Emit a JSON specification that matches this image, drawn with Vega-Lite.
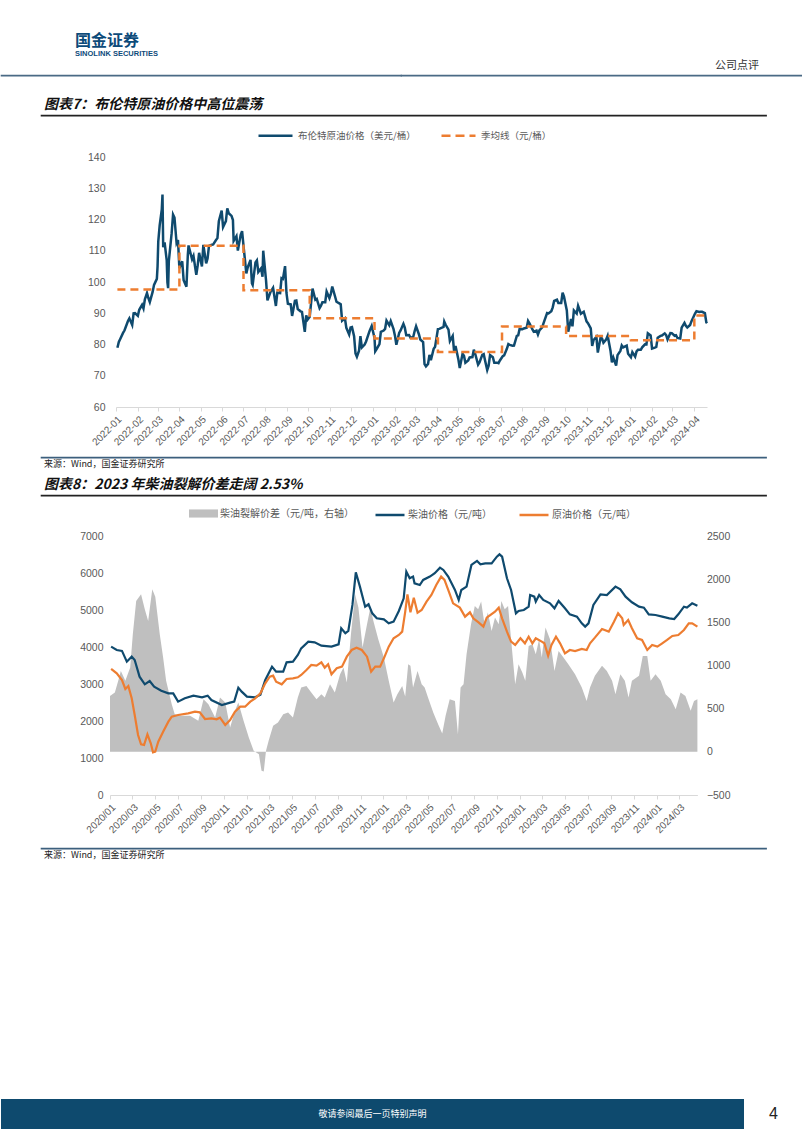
{
  "$schema": "https://vega.github.io/schema/vega-lite/v6.json",
  "padding": 0,
  "background": "white",
  "config": {
    "view": {"stroke": null},
    "font": "Noto Sans CJK SC",
    "axis": {"labelFont": "Liberation Sans", "labelColor": "#595959", "labelFontSize": 10.5, "grid": false, "title": null},
    "title": {"font": "Noto Sans CJK SC"}
  },
  "datasets": {
    "brent": [
      {"date":"2022/01/03","value":78.98},{"date":"2022/01/05","value":80.80},{"date":"2022/01/07","value":81.75},{"date":"2022/01/11","value":83.72},{"date":"2022/01/13","value":84.47},{"date":"2022/01/18","value":87.51},{"date":"2022/01/20","value":88.38},{"date":"2022/01/24","value":86.27},{"date":"2022/01/26","value":89.96},{"date":"2022/01/28","value":90.03},
      {"date":"2022/02/01","value":89.16},{"date":"2022/02/03","value":91.11},{"date":"2022/02/07","value":92.69},{"date":"2022/02/09","value":91.55},{"date":"2022/02/11","value":94.44},{"date":"2022/02/14","value":96.48},{"date":"2022/02/16","value":94.81},{"date":"2022/02/18","value":93.54},{"date":"2022/02/22","value":96.84},{"date":"2022/02/24","value":99.08},{"date":"2022/02/28","value":100.99},
      {"date":"2022/03/01","value":104.97},{"date":"2022/03/02","value":112.93},{"date":"2022/03/04","value":118.11},{"date":"2022/03/07","value":123.21},{"date":"2022/03/08","value":127.98},{"date":"2022/03/09","value":111.14},{"date":"2022/03/11","value":112.67},{"date":"2022/03/14","value":106.90},{"date":"2022/03/15","value":99.91},{"date":"2022/03/16","value":98.02},{"date":"2022/03/17","value":106.64},{"date":"2022/03/21","value":115.62},{"date":"2022/03/23","value":121.60},{"date":"2022/03/25","value":120.65},{"date":"2022/03/28","value":112.48},{"date":"2022/03/30","value":113.45},
      {"date":"2022/04/01","value":104.39},{"date":"2022/04/05","value":106.64},{"date":"2022/04/07","value":100.58},{"date":"2022/04/11","value":98.48},{"date":"2022/04/13","value":108.78},{"date":"2022/04/14","value":111.70},{"date":"2022/04/19","value":107.25},{"date":"2022/04/21","value":108.33},{"date":"2022/04/25","value":102.32},{"date":"2022/04/27","value":105.32},{"date":"2022/04/29","value":109.34},
      {"date":"2022/05/03","value":104.97},{"date":"2022/05/05","value":111.90},{"date":"2022/05/09","value":105.94},{"date":"2022/05/11","value":107.51},{"date":"2022/05/13","value":111.55},{"date":"2022/05/17","value":111.93},{"date":"2022/05/19","value":112.04},{"date":"2022/05/23","value":113.42},{"date":"2022/05/25","value":114.03},{"date":"2022/05/27","value":119.43},{"date":"2022/05/31","value":122.84},
      {"date":"2022/06/02","value":117.61},{"date":"2022/06/06","value":119.51},{"date":"2022/06/08","value":123.58},{"date":"2022/06/10","value":122.01},{"date":"2022/06/14","value":121.17},{"date":"2022/06/16","value":119.81},{"date":"2022/06/17","value":113.12},{"date":"2022/06/21","value":114.65},{"date":"2022/06/23","value":110.05},{"date":"2022/06/27","value":115.09},{"date":"2022/06/29","value":116.26},
      {"date":"2022/07/01","value":111.63},{"date":"2022/07/05","value":102.77},{"date":"2022/07/07","value":104.65},{"date":"2022/07/11","value":107.10},{"date":"2022/07/13","value":99.57},{"date":"2022/07/14","value":99.10},{"date":"2022/07/18","value":106.27},{"date":"2022/07/20","value":106.92},{"date":"2022/07/22","value":103.20},{"date":"2022/07/26","value":104.40},{"date":"2022/07/28","value":101.67},{"date":"2022/07/29","value":110.01},
      {"date":"2022/08/02","value":100.54},{"date":"2022/08/04","value":94.12},{"date":"2022/08/08","value":96.65},{"date":"2022/08/10","value":97.40},{"date":"2022/08/12","value":98.15},{"date":"2022/08/16","value":92.34},{"date":"2022/08/18","value":96.59},{"date":"2022/08/22","value":96.48},{"date":"2022/08/24","value":101.22},{"date":"2022/08/26","value":100.99},{"date":"2022/08/29","value":105.09},{"date":"2022/08/31","value":96.49},
      {"date":"2022/09/02","value":93.02},{"date":"2022/09/06","value":92.83},{"date":"2022/09/08","value":89.15},{"date":"2022/09/12","value":94.00},{"date":"2022/09/14","value":94.10},{"date":"2022/09/16","value":91.35},{"date":"2022/09/20","value":90.62},{"date":"2022/09/22","value":90.46},{"date":"2022/09/26","value":84.06},{"date":"2022/09/28","value":89.32},{"date":"2022/09/30","value":87.96},
      {"date":"2022/10/03","value":88.86},{"date":"2022/10/05","value":93.37},{"date":"2022/10/07","value":97.92},{"date":"2022/10/11","value":94.29},{"date":"2022/10/13","value":94.57},{"date":"2022/10/17","value":91.62},{"date":"2022/10/19","value":92.41},{"date":"2022/10/21","value":93.50},{"date":"2022/10/25","value":93.52},{"date":"2022/10/27","value":96.96},{"date":"2022/10/31","value":94.83},
      {"date":"2022/11/02","value":96.16},{"date":"2022/11/04","value":98.57},{"date":"2022/11/08","value":95.36},{"date":"2022/11/10","value":93.67},{"date":"2022/11/14","value":93.14},{"date":"2022/11/16","value":92.86},{"date":"2022/11/18","value":87.62},{"date":"2022/11/22","value":88.36},{"date":"2022/11/24","value":85.34},{"date":"2022/11/28","value":83.19},{"date":"2022/11/30","value":85.43},
      {"date":"2022/12/02","value":85.57},{"date":"2022/12/05","value":82.68},{"date":"2022/12/07","value":77.17},{"date":"2022/12/09","value":76.10},{"date":"2022/12/12","value":77.99},{"date":"2022/12/14","value":82.70},{"date":"2022/12/16","value":79.04},{"date":"2022/12/20","value":79.99},{"date":"2022/12/22","value":80.98},{"date":"2022/12/27","value":84.33},{"date":"2022/12/30","value":85.91},
      {"date":"2023/01/03","value":82.10},{"date":"2023/01/04","value":77.84},{"date":"2023/01/06","value":78.57},{"date":"2023/01/10","value":80.10},{"date":"2023/01/12","value":84.03},{"date":"2023/01/16","value":84.46},{"date":"2023/01/18","value":84.98},{"date":"2023/01/20","value":87.63},{"date":"2023/01/24","value":86.13},{"date":"2023/01/26","value":87.47},{"date":"2023/01/30","value":84.90},
      {"date":"2023/02/01","value":82.84},{"date":"2023/02/03","value":79.94},{"date":"2023/02/07","value":83.69},{"date":"2023/02/09","value":84.50},{"date":"2023/02/13","value":86.61},{"date":"2023/02/15","value":85.38},{"date":"2023/02/17","value":83.00},{"date":"2023/02/21","value":83.05},{"date":"2023/02/23","value":82.21},{"date":"2023/02/27","value":82.45},
      {"date":"2023/03/01","value":84.31},{"date":"2023/03/03","value":85.83},{"date":"2023/03/07","value":83.29},{"date":"2023/03/09","value":81.59},{"date":"2023/03/13","value":80.77},{"date":"2023/03/15","value":73.69},{"date":"2023/03/17","value":72.97},{"date":"2023/03/20","value":73.79},{"date":"2023/03/22","value":76.69},{"date":"2023/03/24","value":74.99},{"date":"2023/03/28","value":78.65},{"date":"2023/03/30","value":79.27},
      {"date":"2023/04/03","value":84.93},{"date":"2023/04/05","value":84.99},{"date":"2023/04/11","value":85.61},{"date":"2023/04/12","value":87.33},{"date":"2023/04/14","value":86.31},{"date":"2023/04/18","value":84.77},{"date":"2023/04/20","value":81.10},{"date":"2023/04/24","value":82.73},{"date":"2023/04/26","value":77.69},{"date":"2023/04/28","value":79.54},
      {"date":"2023/05/02","value":75.32},{"date":"2023/05/04","value":72.50},{"date":"2023/05/08","value":77.01},{"date":"2023/05/10","value":76.41},{"date":"2023/05/12","value":74.17},{"date":"2023/05/16","value":74.91},{"date":"2023/05/18","value":75.86},{"date":"2023/05/22","value":75.99},{"date":"2023/05/24","value":78.36},{"date":"2023/05/26","value":76.95},{"date":"2023/05/30","value":73.54},
      {"date":"2023/06/01","value":74.28},{"date":"2023/06/05","value":76.71},{"date":"2023/06/07","value":76.95},{"date":"2023/06/09","value":74.79},{"date":"2023/06/12","value":71.84},{"date":"2023/06/14","value":73.20},{"date":"2023/06/16","value":76.61},{"date":"2023/06/20","value":75.90},{"date":"2023/06/22","value":74.14},{"date":"2023/06/26","value":74.18},{"date":"2023/06/28","value":74.03},{"date":"2023/06/30","value":74.90},
      {"date":"2023/07/04","value":76.25},{"date":"2023/07/06","value":76.52},{"date":"2023/07/10","value":78.69},{"date":"2023/07/12","value":80.11},{"date":"2023/07/14","value":79.87},{"date":"2023/07/18","value":79.63},{"date":"2023/07/20","value":79.64},{"date":"2023/07/24","value":82.74},{"date":"2023/07/26","value":82.92},{"date":"2023/07/28","value":84.99},
      {"date":"2023/08/01","value":84.91},{"date":"2023/08/03","value":85.14},{"date":"2023/08/07","value":85.34},{"date":"2023/08/09","value":87.55},{"date":"2023/08/11","value":86.81},{"date":"2023/08/15","value":84.89},{"date":"2023/08/17","value":84.12},{"date":"2023/08/21","value":84.46},{"date":"2023/08/23","value":83.21},{"date":"2023/08/25","value":84.48},{"date":"2023/08/29","value":85.49},{"date":"2023/08/31","value":86.86},
      {"date":"2023/09/05","value":90.04},{"date":"2023/09/07","value":89.92},{"date":"2023/09/11","value":90.64},{"date":"2023/09/13","value":91.88},{"date":"2023/09/15","value":93.93},{"date":"2023/09/19","value":94.34},{"date":"2023/09/21","value":93.30},{"date":"2023/09/25","value":93.29},{"date":"2023/09/27","value":96.55},{"date":"2023/09/29","value":95.31},
      {"date":"2023/10/03","value":90.92},{"date":"2023/10/05","value":84.07},{"date":"2023/10/09","value":88.15},{"date":"2023/10/11","value":85.82},{"date":"2023/10/13","value":90.89},{"date":"2023/10/17","value":89.90},{"date":"2023/10/19","value":92.38},{"date":"2023/10/23","value":89.83},{"date":"2023/10/25","value":90.13},{"date":"2023/10/27","value":90.48},{"date":"2023/10/31","value":87.41},
      {"date":"2023/11/02","value":86.85},{"date":"2023/11/06","value":85.18},{"date":"2023/11/08","value":79.54},{"date":"2023/11/10","value":81.43},{"date":"2023/11/14","value":82.47},{"date":"2023/11/16","value":77.42},{"date":"2023/11/20","value":82.32},{"date":"2023/11/22","value":81.96},{"date":"2023/11/24","value":80.58},{"date":"2023/11/28","value":81.68},{"date":"2023/11/30","value":82.83},
      {"date":"2023/12/04","value":78.03},{"date":"2023/12/06","value":74.30},{"date":"2023/12/08","value":75.84},{"date":"2023/12/12","value":73.24},{"date":"2023/12/14","value":76.61},{"date":"2023/12/18","value":77.95},{"date":"2023/12/20","value":79.70},{"date":"2023/12/22","value":79.07},{"date":"2023/12/27","value":79.65},{"date":"2023/12/29","value":77.04},
      {"date":"2024/01/02","value":75.89},{"date":"2024/01/04","value":77.59},{"date":"2024/01/08","value":76.12},{"date":"2024/01/10","value":77.80},{"date":"2024/01/12","value":78.29},{"date":"2024/01/16","value":78.29},{"date":"2024/01/18","value":79.10},{"date":"2024/01/22","value":80.06},{"date":"2024/01/24","value":80.04},{"date":"2024/01/26","value":83.55},{"date":"2024/01/30","value":82.87},
      {"date":"2024/02/01","value":78.70},{"date":"2024/02/05","value":78.99},{"date":"2024/02/07","value":79.21},{"date":"2024/02/09","value":82.19},{"date":"2024/02/13","value":82.77},{"date":"2024/02/15","value":82.86},{"date":"2024/02/19","value":83.56},{"date":"2024/02/21","value":83.03},{"date":"2024/02/23","value":81.62},{"date":"2024/02/27","value":83.65},{"date":"2024/02/29","value":83.62},
      {"date":"2024/03/04","value":82.80},{"date":"2024/03/06","value":82.96},{"date":"2024/03/08","value":82.08},{"date":"2024/03/12","value":81.92},{"date":"2024/03/14","value":85.42},{"date":"2024/03/18","value":86.89},{"date":"2024/03/20","value":85.95},{"date":"2024/03/22","value":85.43},{"date":"2024/03/26","value":86.25},{"date":"2024/03/28","value":87.48},
      {"date":"2024/04/02","value":89.92},{"date":"2024/04/04","value":90.65},{"date":"2024/04/08","value":90.38},{"date":"2024/04/10","value":90.48},{"date":"2024/04/12","value":90.45},{"date":"2024/04/16","value":90.02},{"date":"2024/04/18","value":87.11},{"date":"2024/04/19","value":86.8}
    ],
    "brentQ": [
      {"date":"2022/01/03","value":97.6},{"date":"2022/04/01","value":111.6},{"date":"2022/07/01","value":97.4},{"date":"2022/10/03","value":88.4},{"date":"2023/01/03","value":81.9},{"date":"2023/04/03","value":77.6},{"date":"2023/07/03","value":85.8},{"date":"2023/10/02","value":82.7},{"date":"2024/01/02","value":81.4},{"date":"2024/04/01","value":89.3},{"date":"2024/04/19","value":89.3}
    ],
    "diesel": [
      {"date":"2020/01/04","value":4010},{"date":"2020/01/19","value":3919},{"date":"2020/02/02","value":3895},{"date":"2020/02/15","value":3604},{"date":"2020/02/28","value":3739},{"date":"2020/03/07","value":3650},{"date":"2020/03/20","value":3198},{"date":"2020/04/03","value":2991},{"date":"2020/04/16","value":3081},{"date":"2020/04/28","value":2928},{"date":"2020/05/17","value":2820},{"date":"2020/06/05","value":2748},{"date":"2020/06/18","value":2748},{"date":"2020/07/01","value":2523},{"date":"2020/07/19","value":2613},{"date":"2020/08/11","value":2685},{"date":"2020/09/03","value":2640},{"date":"2020/09/18","value":2685},{"date":"2020/09/28","value":2568},{"date":"2020/10/26","value":2433},{"date":"2020/11/17","value":2496},{"date":"2020/11/28","value":2523},{"date":"2020/12/09","value":2901},{"date":"2020/12/18","value":2793},
      {"date":"2021/01/01","value":2658},{"date":"2021/01/23","value":2640},{"date":"2021/02/06","value":2712},{"date":"2021/02/19","value":3108},{"date":"2021/03/09","value":3469},{"date":"2021/03/20","value":3334},{"date":"2021/04/08","value":3334},{"date":"2021/04/17","value":3586},{"date":"2021/05/04","value":3604},{"date":"2021/05/17","value":3784},{"date":"2021/05/26","value":3964},{"date":"2021/06/14","value":4145},{"date":"2021/07/01","value":4127},{"date":"2021/07/19","value":4037},{"date":"2021/08/15","value":4010},{"date":"2021/09/03","value":4073},{"date":"2021/09/10","value":4505},{"date":"2021/09/21","value":4370},{"date":"2021/09/29","value":4433},{"date":"2021/10/10","value":5136},{"date":"2021/10/19","value":6019},{"date":"2021/10/30","value":5631},{"date":"2021/11/13","value":5090},{"date":"2021/11/22","value":5154},{"date":"2021/12/02","value":4910},{"date":"2021/12/14","value":4775},
      {"date":"2022/01/02","value":4748},{"date":"2022/01/15","value":4640},{"date":"2022/01/28","value":4685},{"date":"2022/02/11","value":4974},{"date":"2022/02/24","value":5316},{"date":"2022/03/03","value":6037},{"date":"2022/03/12","value":5857},{"date":"2022/03/21","value":5903},{"date":"2022/03/25","value":5721},{"date":"2022/04/08","value":5676},{"date":"2022/04/17","value":5812},{"date":"2022/05/05","value":5903},{"date":"2022/05/18","value":5993},{"date":"2022/06/01","value":6145},{"date":"2022/06/10","value":6082},{"date":"2022/06/23","value":5903},{"date":"2022/07/11","value":5541},{"date":"2022/07/21","value":5271},{"date":"2022/07/28","value":5541},{"date":"2022/08/11","value":5631},{"date":"2022/08/24","value":6217},{"date":"2022/09/08","value":6325},{"date":"2022/09/17","value":6235},{"date":"2022/09/30","value":6262},{"date":"2022/10/17","value":6262},{"date":"2022/10/31","value":6442},{"date":"2022/11/07","value":6505},{"date":"2022/11/14","value":6442},{"date":"2022/11/27","value":5857},{"date":"2022/12/08","value":5541},{"date":"2022/12/21","value":4910},{"date":"2022/12/28","value":4974},
      {"date":"2023/01/11","value":5001},{"date":"2023/01/24","value":5090},{"date":"2023/01/28","value":5406},{"date":"2023/02/08","value":5361},{"date":"2023/02/12","value":5226},{"date":"2023/02/21","value":5406},{"date":"2023/03/04","value":5271},{"date":"2023/03/22","value":5181},{"date":"2023/04/03","value":5046},{"date":"2023/04/14","value":5244},{"date":"2023/05/01","value":5046},{"date":"2023/05/14","value":4883},{"date":"2023/06/02","value":4820},{"date":"2023/06/15","value":4640},{"date":"2023/06/24","value":4550},{"date":"2023/07/03","value":4640},{"date":"2023/07/16","value":5136},{"date":"2023/08/04","value":5424},{"date":"2023/08/21","value":5406},{"date":"2023/09/13","value":5631},{"date":"2023/09/26","value":5559},{"date":"2023/10/10","value":5361},{"date":"2023/10/27","value":5208},{"date":"2023/11/15","value":5090},{"date":"2023/11/28","value":5064},{"date":"2023/12/11","value":4883},{"date":"2023/12/29","value":4865},
      {"date":"2024/01/16","value":4820},{"date":"2024/02/04","value":4775},{"date":"2024/02/17","value":4757},{"date":"2024/02/28","value":4883},{"date":"2024/03/14","value":5090},{"date":"2024/03/22","value":5064},{"date":"2024/04/05","value":5181},{"date":"2024/04/19","value":5118}
    ],
    "crude": [
      {"date":"2020/01/04","value":3406},{"date":"2020/01/19","value":3289},{"date":"2020/02/02","value":3108},{"date":"2020/02/11","value":2865},{"date":"2020/02/19","value":2945},{"date":"2020/02/28","value":2613},{"date":"2020/03/07","value":2162},{"date":"2020/03/16","value":1622},{"date":"2020/03/24","value":1370},{"date":"2020/04/01","value":1352},{"date":"2020/04/10","value":1640},{"date":"2020/04/19","value":1397},{"date":"2020/04/25","value":1153},{"date":"2020/05/01","value":1171},{"date":"2020/05/09","value":1442},{"date":"2020/05/22","value":1712},{"date":"2020/06/05","value":1982},{"date":"2020/06/14","value":2117},{"date":"2020/07/01","value":2162},{"date":"2020/07/28","value":2207},{"date":"2020/08/15","value":2252},{"date":"2020/08/28","value":2234},{"date":"2020/09/11","value":2054},{"date":"2020/09/28","value":2072},{"date":"2020/10/12","value":2045},{"date":"2020/10/21","value":2090},{"date":"2020/11/04","value":1892},{"date":"2020/11/17","value":2027},{"date":"2020/11/30","value":2252},{"date":"2020/12/14","value":2387},{"date":"2020/12/27","value":2387},
      {"date":"2021/01/10","value":2523},{"date":"2021/01/23","value":2613},{"date":"2021/02/06","value":2748},{"date":"2021/02/19","value":3018},{"date":"2021/03/03","value":3198},{"date":"2021/03/12","value":3225},{"date":"2021/03/20","value":3063},{"date":"2021/04/04","value":2991},{"date":"2021/04/17","value":3135},{"date":"2021/05/04","value":3153},{"date":"2021/05/17","value":3180},{"date":"2021/05/26","value":3244},{"date":"2021/06/09","value":3379},{"date":"2021/06/22","value":3514},{"date":"2021/07/06","value":3496},{"date":"2021/07/19","value":3586},{"date":"2021/07/28","value":3442},{"date":"2021/08/06","value":3532},{"date":"2021/08/15","value":3262},{"date":"2021/08/29","value":3424},{"date":"2021/09/12","value":3469},{"date":"2021/09/25","value":3739},{"date":"2021/10/08","value":3919},{"date":"2021/10/21","value":3982},{"date":"2021/11/04","value":3919},{"date":"2021/11/18","value":3739},{"date":"2021/11/29","value":3334},{"date":"2021/12/10","value":3469},{"date":"2021/12/23","value":3469},
      {"date":"2022/01/02","value":3694},{"date":"2022/01/15","value":4010},{"date":"2022/01/28","value":4235},{"date":"2022/02/11","value":4325},{"date":"2022/02/20","value":4415},{"date":"2022/02/28","value":4950},{"date":"2022/03/06","value":5424},{"date":"2022/03/14","value":4940},{"date":"2022/03/23","value":5334},{"date":"2022/04/02","value":4928},{"date":"2022/04/13","value":5001},{"date":"2022/04/26","value":5226},{"date":"2022/05/09","value":5406},{"date":"2022/05/22","value":5676},{"date":"2022/06/04","value":5903},{"date":"2022/06/13","value":5812},{"date":"2022/06/23","value":5541},{"date":"2022/07/06","value":5181},{"date":"2022/07/24","value":5064},{"date":"2022/08/07","value":4820},{"date":"2022/08/20","value":4937},{"date":"2022/08/29","value":4775},{"date":"2022/09/12","value":4667},{"date":"2022/09/25","value":4550},{"date":"2022/10/04","value":4793},{"date":"2022/10/16","value":4883},{"date":"2022/10/26","value":4955},{"date":"2022/11/05","value":5064},{"date":"2022/11/14","value":4775},{"date":"2022/11/27","value":4415},{"date":"2022/12/08","value":4145},{"date":"2022/12/19","value":4055},
      {"date":"2023/01/02","value":4235},{"date":"2023/01/14","value":4100},{"date":"2023/01/24","value":4280},{"date":"2023/02/03","value":4100},{"date":"2023/02/12","value":4235},{"date":"2023/02/28","value":4145},{"date":"2023/03/07","value":4100},{"date":"2023/03/17","value":3766},{"date":"2023/03/26","value":4055},{"date":"2023/04/07","value":4280},{"date":"2023/04/18","value":4100},{"date":"2023/05/01","value":3829},{"date":"2023/05/14","value":3919},{"date":"2023/05/28","value":3892},{"date":"2023/06/15","value":3946},{"date":"2023/06/28","value":3919},{"date":"2023/07/07","value":4100},{"date":"2023/07/20","value":4253},{"date":"2023/08/08","value":4487},{"date":"2023/08/26","value":4415},{"date":"2023/09/09","value":4685},{"date":"2023/09/20","value":4910},{"date":"2023/10/01","value":4775},{"date":"2023/10/05","value":4595},{"date":"2023/10/17","value":4730},{"date":"2023/10/27","value":4505},{"date":"2023/11/10","value":4235},{"date":"2023/11/23","value":4190},{"date":"2023/12/07","value":3919},{"date":"2023/12/20","value":4055},
      {"date":"2024/01/03","value":4010},{"date":"2024/01/16","value":4100},{"date":"2024/01/29","value":4190},{"date":"2024/02/12","value":4298},{"date":"2024/02/28","value":4325},{"date":"2024/03/14","value":4460},{"date":"2024/03/27","value":4640},{"date":"2024/04/05","value":4640},{"date":"2024/04/19","value":4550}
    ],
    "spread": [
      {"date":"2020/01/01","value":648},{"date":"2020/01/14","value":687},{"date":"2020/01/23","value":822},{"date":"2020/01/30","value":937},{"date":"2020/02/11","value":822},{"date":"2020/02/24","value":977},{"date":"2020/03/02","value":1362},{"date":"2020/03/11","value":1748},{"date":"2020/03/24","value":1825},{"date":"2020/04/03","value":1652},{"date":"2020/04/12","value":1516},{"date":"2020/04/23","value":1883},{"date":"2020/05/01","value":1797},{"date":"2020/05/13","value":1362},{"date":"2020/05/22","value":1092},{"date":"2020/05/30","value":822},{"date":"2020/06/14","value":552},{"date":"2020/06/22","value":436},{"date":"2020/07/10","value":417},{"date":"2020/08/02","value":417},{"date":"2020/08/24","value":359},{"date":"2020/09/07","value":610},{"date":"2020/09/20","value":552},{"date":"2020/10/08","value":398},{"date":"2020/10/21","value":629},{"date":"2020/11/04","value":571},{"date":"2020/11/17","value":282},{"date":"2020/11/30","value":475},{"date":"2020/12/09","value":571},{"date":"2020/12/23","value":359},
      {"date":"2021/01/06","value":167},{"date":"2021/01/19","value":12},{"date":"2021/02/02","value":-27},{"date":"2021/02/09","value":-220},{"date":"2021/02/15","value":-227},{"date":"2021/02/21","value":12},{"date":"2021/02/28","value":127},{"date":"2021/03/12","value":301},{"date":"2021/03/25","value":340},{"date":"2021/04/08","value":436},{"date":"2021/04/21","value":455},{"date":"2021/05/04","value":398},{"date":"2021/05/17","value":629},{"date":"2021/05/26","value":745},{"date":"2021/06/09","value":764},{"date":"2021/06/22","value":687},{"date":"2021/07/06","value":610},{"date":"2021/07/19","value":668},{"date":"2021/07/28","value":629},{"date":"2021/08/11","value":784},{"date":"2021/08/24","value":687},{"date":"2021/09/07","value":899},{"date":"2021/09/16","value":977},{"date":"2021/09/25","value":803},{"date":"2021/10/06","value":1362},{"date":"2021/10/17","value":1825},{"date":"2021/10/26","value":1671},{"date":"2021/11/06","value":1208},{"date":"2021/11/18","value":1478},{"date":"2021/11/27","value":1671},{"date":"2021/12/05","value":1516},{"date":"2021/12/18","value":1304},
      {"date":"2022/01/02","value":1092},{"date":"2022/01/15","value":822},{"date":"2022/01/28","value":571},{"date":"2022/02/07","value":668},{"date":"2022/02/20","value":764},{"date":"2022/02/28","value":640},{"date":"2022/03/08","value":1015},{"date":"2022/03/14","value":996},{"date":"2022/03/21","value":745},{"date":"2022/04/02","value":937},{"date":"2022/04/13","value":784},{"date":"2022/04/21","value":745},{"date":"2022/04/30","value":629},{"date":"2022/05/14","value":455},{"date":"2022/05/27","value":320},{"date":"2022/06/07","value":213},{"date":"2022/06/16","value":417},{"date":"2022/06/27","value":610},{"date":"2022/07/11","value":590},{"date":"2022/07/19","value":205},{"date":"2022/07/26","value":745},{"date":"2022/08/03","value":784},{"date":"2022/08/11","value":1131},{"date":"2022/08/23","value":1478},{"date":"2022/09/02","value":1690},{"date":"2022/09/11","value":1652},{"date":"2022/09/19","value":1740},{"date":"2022/09/28","value":1478},{"date":"2022/10/07","value":1613},{"date":"2022/10/17","value":1400},{"date":"2022/10/26","value":1555},{"date":"2022/11/05","value":1478},{"date":"2022/11/12","value":1748},{"date":"2022/11/21","value":1652},{"date":"2022/11/30","value":1690},{"date":"2022/12/10","value":1208},{"date":"2022/12/19","value":784},{"date":"2022/12/28","value":1015},
      {"date":"2023/01/07","value":918},{"date":"2023/01/15","value":822},{"date":"2023/01/24","value":1227},{"date":"2023/02/03","value":1246},{"date":"2023/02/12","value":1131},{"date":"2023/02/21","value":1304},{"date":"2023/02/28","value":1092},{"date":"2023/03/10","value":1440},{"date":"2023/03/22","value":1304},{"date":"2023/04/03","value":937},{"date":"2023/04/14","value":1169},{"date":"2023/04/27","value":1092},{"date":"2023/05/10","value":1015},{"date":"2023/05/28","value":899},{"date":"2023/06/15","value":745},{"date":"2023/06/28","value":590},{"date":"2023/07/07","value":745},{"date":"2023/07/20","value":880},{"date":"2023/08/08","value":996},{"date":"2023/08/21","value":937},{"date":"2023/09/04","value":822},{"date":"2023/09/13","value":668},{"date":"2023/09/26","value":899},{"date":"2023/10/08","value":822},{"date":"2023/10/18","value":629},{"date":"2023/10/27","value":822},{"date":"2023/11/15","value":880},{"date":"2023/11/25","value":1111},{"date":"2023/12/07","value":1111},{"date":"2023/12/16","value":822},{"date":"2023/12/29","value":899},
      {"date":"2024/01/12","value":822},{"date":"2024/01/25","value":668},{"date":"2024/02/08","value":610},{"date":"2024/02/21","value":494},{"date":"2024/03/05","value":687},{"date":"2024/03/18","value":648},{"date":"2024/04/01","value":475},{"date":"2024/04/10","value":590},{"date":"2024/04/19","value":610}
    ]
  },
  "vconcat": [
    {"width": 10, "height": 75, "data": {"values": []}, "mark": "point"},
    {
      "hconcat": [
        {"width": 400, "height": 0.5, "data": {"values": []}, "mark": "point",
         "view": {"stroke": "#4a6a85", "strokeWidth": 1.2},
         "title": {"text": "国金证券", "subtitle": "SINOLINK SECURITIES", "anchor": "start", "dx": 74, "offset": 18, "fontSize": 16, "fontWeight": "bold", "color": "#0d4b7a", "subtitleFont": "Liberation Sans", "subtitleFontSize": 7.5, "subtitleFontWeight": "bold", "subtitleColor": "#0d4b7a", "subtitlePadding": 1}},
        {"width": 402, "height": 0.5, "data": {"values": []}, "mark": "point",
         "view": {"stroke": "#4a6a85", "strokeWidth": 1.2},
         "title": {"text": "公司点评", "anchor": "end", "dx": -44, "offset": 4, "fontSize": 11, "fontWeight": "normal", "color": "#333333"}}
      ],
      "spacing": 0, "bounds": "flush"
    },
    {"width": 10, "height": 40, "data": {"values": []}, "mark": "point"},
    {
      "hconcat": [
        {"width": 40, "height": 10, "data": {"values": []}, "mark": "point"},
        {"width": 725, "height": 0.5, "data": {"values": []}, "mark": "point",
         "view": {"stroke": "#222222", "strokeWidth": 1.2},
         "title": {"text": "图表7：布伦特原油价格中高位震荡", "anchor": "start", "dx": 3, "offset": 3, "fontSize": 14, "fontWeight": "bold", "fontStyle": "italic", "color": "#111111"}}
      ],
      "spacing": 0, "bounds": "flush"
    },
    {"width": 10, "height": 42, "data": {"values": []}, "mark": "point"},
    {
      "hconcat": [
        {"width": 114.7, "height": 250, "data": {"values": []}, "mark": "point"},
        {
          "width": 591, "height": 250,
          "encoding": {
            "x": {"field": "date", "type": "temporal",
                  "scale": {"domain": [{"year": 2022, "month": 1, "date": 1}, {"year": 2024, "month": 4, "date": 19}]},
                  "axis": {"format": "%Y-%m", "tickCount": {"interval": "month", "step": 1}, "labelAngle": -45, "labelOverlap": false, "labelFlush": false, "labelFontSize": 10, "domainColor": "#d9d9d9", "tickColor": "#d9d9d9", "tickSize": 4, "labelPadding": 3}},
            "y": {"field": "value", "type": "quantitative",
                  "scale": {"domain": [60, 140], "nice": false, "zero": false},
                  "axis": {"values": [60, 70, 80, 90, 100, 110, 120, 130, 140], "format": "d", "labelOverlap": false, "domain": false, "ticks": false, "labelPadding": 11}}
          },
          "layer": [
            {
              "data": {"name": "brent"},
              "mark": {"type": "line", "strokeWidth": 2.5},
              "encoding": {
                "color": {"datum": "布伦特原油价格（美元/桶）", "type": "nominal",
                          "scale": {"domain": ["布伦特原油价格（美元/桶）", "季均线（元/桶）"], "range": ["#0f4a6e", "#ed7d31"]},
                          "legend": {"orient": "none", "legendX": 141, "legendY": -40, "direction": "horizontal", "title": null, "symbolType": "stroke", "symbolSize": 1156, "symbolStrokeWidth": 2.5, "labelFont": "Noto Sans CJK SC", "labelFontSize": 9.5, "labelColor": "#595959", "labelOffset": 4, "columnPadding": 20, "padding": 0,
                                     "encode": {"symbols": {"update": {"stroke": {"signal": "datum.value === '季均线（元/桶）' ? '#ed7d31' : '#0f4a6e'"}, "strokeDash": {"signal": "datum.value === '季均线（元/桶）' ? [9, 5] : [1, 0]"}, "strokeWidth": {"value": 2.5}}}}}}
              }
            },
            {
              "data": {"name": "brentQ"},
              "mark": {"type": "line", "strokeWidth": 2.5, "strokeDash": [8, 5], "interpolate": "step-after"},
              "encoding": {
                "color": {"datum": "季均线（元/桶）", "type": "nominal"}
              }
            }
          ]
        }
      ],
      "spacing": 0, "bounds": "flush",
      "resolve": {"scale": {"color": "independent"}, "legend": {"color": "independent"}}
    },
    {"width": 10, "height": 300, "data": {"values": []}, "mark": "point"},
    {
      "hconcat": [
        {"width": 40, "height": 10, "data": {"values": []}, "mark": "point"},
        {"width": 725, "height": 0.5, "data": {"values": []}, "mark": "point",
         "view": {"stroke": "#3c5f7d", "strokeWidth": 1.2},
         "title": {"text": "来源：Wind，国金证券研究所", "orient": "bottom", "anchor": "start", "dx": 3, "offset": 2, "fontSize": 9, "fontWeight": "normal", "color": "#222222"}}
      ],
      "spacing": 0, "bounds": "flush"
    },
    {"width": 10, "height": 38, "data": {"values": []}, "mark": "point"},
    {
      "hconcat": [
        {"width": 40, "height": 10, "data": {"values": []}, "mark": "point"},
        {"width": 725, "height": 0.5, "data": {"values": []}, "mark": "point",
         "view": {"stroke": "#222222", "strokeWidth": 1.2},
         "title": {"text": "图表8：2023 年柴油裂解价差走阔 2.53%", "anchor": "start", "dx": 3, "offset": 3, "fontSize": 14, "fontWeight": "bold", "fontStyle": "italic", "color": "#111111"}}
      ],
      "spacing": 0, "bounds": "flush"
    },
    {"width": 10, "height": 41, "data": {"values": []}, "mark": "point"},
    {
      "hconcat": [
        {"width": 108.3, "height": 259, "data": {"values": []}, "mark": "point"},
        {
          "width": 587.4, "height": 259,
          "encoding": {
            "x": {"field": "date", "type": "temporal",
                  "scale": {"domain": [{"year": 2020, "month": 1, "date": 1}, {"year": 2024, "month": 4, "date": 19}]},
                  "axis": {"format": "%Y/%m", "tickCount": {"interval": "month", "step": 2}, "labelAngle": -45, "labelOverlap": false, "labelFlush": false, "labelFontSize": 10, "domainColor": "#d9d9d9", "tickColor": "#d9d9d9", "tickSize": 4, "labelPadding": 3}}
          },
          "layer": [
            {
              "data": {"name": "spread"},
              "mark": {"type": "area", "opacity": 1},
              "encoding": {
                "y": {"field": "value", "type": "quantitative", "stack": null,
                      "scale": {"domain": [-500, 2500], "nice": false, "zero": false},
                      "axis": {"orient": "right", "values": [-500, 0, 500, 1000, 1500, 2000, 2500], "format": "d", "labelOverlap": false, "domain": false, "ticks": false, "labelPadding": 9}},
                "y2": {"datum": 0},
                "fill": {"datum": "柴油裂解价差（元/吨，右轴）", "type": "nominal",
                         "scale": {"domain": ["柴油裂解价差（元/吨，右轴）"], "range": ["#bfbfbf"]},
                         "legend": {"orient": "none", "legendX": 79, "legendY": -37, "direction": "horizontal", "title": null, "symbolType": "M-1,-0.28H1V0.28H-1Z", "symbolSize": 841, "symbolStrokeWidth": 0, "labelFont": "Noto Sans CJK SC", "labelFontSize": 10, "labelColor": "#595959", "labelOffset": 2, "padding": 0}}
              }
            },
            {
              "encoding": {
                "y": {"field": "value", "type": "quantitative",
                      "scale": {"domain": [0, 7000], "nice": false},
                      "axis": {"orient": "left", "values": [0, 1000, 2000, 3000, 4000, 5000, 6000, 7000], "format": "d", "labelOverlap": false, "domain": false, "ticks": false, "labelPadding": 7}}
              },
              "layer": [
                {
                  "data": {"name": "diesel"},
                  "mark": {"type": "line", "strokeWidth": 2.2},
                  "encoding": {
                    "stroke": {"datum": "柴油价格（元/吨）", "type": "nominal",
                               "scale": {"domain": ["柴油价格（元/吨）", "原油价格（元/吨）"], "range": ["#0f4a6e", "#ed7d31"]},
                               "legend": {"orient": "none", "legendX": 264, "legendY": -37, "direction": "horizontal", "title": null, "symbolType": "stroke", "symbolSize": 841, "symbolStrokeWidth": 2.5, "labelFont": "Noto Sans CJK SC", "labelFontSize": 10, "labelColor": "#595959", "labelOffset": 2, "columnPadding": 22, "padding": 0}}
                  }
                },
                {
                  "data": {"name": "crude"},
                  "mark": {"type": "line", "strokeWidth": 2.2},
                  "encoding": {
                    "stroke": {"datum": "原油价格（元/吨）", "type": "nominal"}
                  }
                }
              ]
            }
          ],
          "resolve": {"scale": {"y": "independent"}}
        }
      ],
      "spacing": 0, "bounds": "flush",
      "resolve": {"scale": {"color": "independent", "fill": "independent", "stroke": "independent"}, "legend": {"color": "independent", "fill": "independent", "stroke": "independent"}}
    },
    {"width": 10, "height": 311.7, "data": {"values": []}, "mark": "point"},
    {
      "hconcat": [
        {"width": 40, "height": 10, "data": {"values": []}, "mark": "point"},
        {"width": 725, "height": 0.5, "data": {"values": []}, "mark": "point",
         "view": {"stroke": "#3c5f7d", "strokeWidth": 1.2},
         "title": {"text": "来源：Wind，国金证券研究所", "orient": "bottom", "anchor": "start", "dx": 3, "offset": 2, "fontSize": 9, "fontWeight": "normal", "color": "#222222"}}
      ],
      "spacing": 0, "bounds": "flush"
    },
    {"width": 10, "height": 250.3, "data": {"values": []}, "mark": "point"},
    {
      "hconcat": [
        {"width": 743, "height": 30, "data": {"values": [{"t": "敬请参阅最后一页特别声明"}]},
         "view": {"fill": "#0e4a6e", "stroke": null},
         "mark": {"type": "text", "color": "white", "fontSize": 9, "font": "Noto Sans CJK SC"},
         "encoding": {"text": {"field": "t", "type": "nominal"}}},
        {"width": 59, "height": 30, "data": {"values": [{"t": "4"}]},
         "mark": {"type": "text", "color": "#222222", "fontSize": 16, "font": "Liberation Sans"},
         "encoding": {"text": {"field": "t", "type": "nominal"}}}
      ],
      "spacing": 0, "bounds": "flush"
    }
  ],
  "spacing": 0,
  "bounds": "flush",
  "resolve": {"scale": {"color": "independent", "fill": "independent", "stroke": "independent"}, "legend": {"color": "independent", "fill": "independent", "stroke": "independent"}}
}
